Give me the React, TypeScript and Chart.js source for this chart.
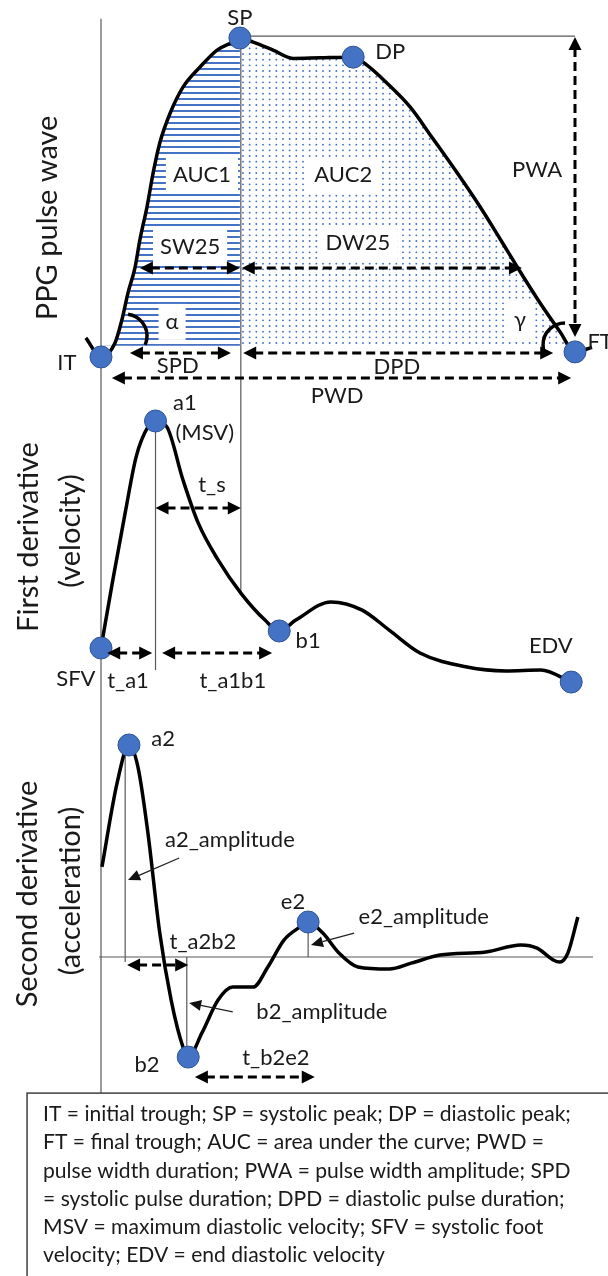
import React, { useEffect, useRef } from 'react';
import { Chart, registerables } from 'chart.js';
Chart.register(...registerables);

// ---------- DATA (time: IT = 0, FT = 100; amplitudes normalised per panel) ----------
const ppgTime = [-3.2, 0, 2.95, 4.4, 5.7, 7.2, 8.2, 9.7, 11.0, 12.4, 14.6, 17.3, 20.9, 24.5, 27.8, 29.3, 32.1, 36.3, 40.5, 46.2, 53.2, 56.1, 60.3, 65.2, 70.0, 75.1, 80.0, 84.2, 88.4, 92.6, 96.8, 100, 103.6];
const ppgValue = [0.06, 0, 0.044, 0.116, 0.201, 0.282, 0.367, 0.47, 0.577, 0.671, 0.765, 0.846, 0.909, 0.962, 0.987, 1.0, 0.987, 0.962, 0.936, 0.938, 0.94, 0.915, 0.859, 0.784, 0.685, 0.578, 0.47, 0.37, 0.268, 0.17, 0.08, 0.016, 0.03];

const velTime = [0, 2.5, 5.1, 7.4, 9.9, 11.5, 13.9, 17.3, 20.5, 24.7, 29.5, 34.6, 37.6, 41.1, 48.5, 55.1, 60.8, 67.3, 77.2, 85.4, 92.8, 99.2];
const velValue = [0, 0.3, 0.595, 0.841, 0.974, 1.0, 0.974, 0.74, 0.551, 0.388, 0.242, 0.123, 0.075, 0.123, 0.203, 0.167, 0.079, -0.022, -0.084, -0.101, -0.097, -0.15];

const accTime = [0.2, 3.4, 5.9, 7.8, 9.9, 12.4, 14.8, 17.3, 18.4, 21.3, 24.7, 27.8, 32.1, 35.2, 38.6, 42.0, 43.7, 46.8, 50.2, 54.2, 60.8, 65.6, 71.5, 81.2, 88.6, 92.0, 95.4, 96.8, 98.5, 100.6];
const accValue = [0.425, 0.821, 1.0, 0.896, 0.585, 0.113, -0.203, -0.425, -0.472, -0.358, -0.203, -0.142, -0.142, -0.047, 0.08, 0.142, 0.165, 0.113, 0.019, -0.047, -0.057, -0.028, 0.009, 0.024, 0.057, 0.042, -0.014, -0.024, 0.019, 0.189];

const ppgMarkerTime = [0, 29.3, 53.2, 100];
const ppgMarkerValue = [0, 1.0, 0.94, 0.016];
const velMarkerTime = [0, 11.5, 37.6, 99.2];
const velMarkerValue = [0, 1.0, 0.075, -0.15];
const accMarkerTime = [5.9, 18.4, 43.7];
const accMarkerValue = [1.0, -0.472, 0.165];

const systolicPeakTime = 29.3;
const aucBaseline = 0.035;

const noteLines = [
  'IT = initial trough; SP = systolic peak; DP = diastolic peak;',
  'FT = final trough; AUC = area under the curve; PWD =',
  'pulse width duration; PWA = pulse width amplitude; SPD',
  '= systolic pulse duration; DPD = diastolic pulse duration;',
  'MSV = maximum diastolic velocity; SFV = systolic foot',
  'velocity; EDV = end diastolic velocity',
];

// ---------- LAYOUT / ANNOTATIONS (in data units of each panel) ----------
const W = 608;
const H = 1276;
const xZeroPx = 101;
const xPerUnit = 4.74;
const panelAnchors: Record<string, [number, number]> = { yP: [357, 38], yV: [648, 421], yA: [957, 745] };

type Ref = [string, number, number];
const thinLines: [Ref, Ref][] = [
  [['yP', 0, 1.06], ['yA', 0, -0.642]],
  [['yP', 29.5, 1.0], ['yV', 29.5, 0.242]],
  [['yP', 29.3, 1.006], ['yP', 100, 1.006]],
  [['yV', 11.5, 1.0], ['yV', 11.5, -0.097]],
  [['yA', 5.1, 1.0], ['yA', 5.1, -0.024]],
  [['yA', 18.1, 0], ['yA', 18.1, -0.472]],
  [['yA', 43.7, 0.165], ['yA', 43.7, 0]],
  [['yA', -0.4, 0], ['yA', 103.8, 0]],
];

const dashArrows: [string, number, number, number, number][] = [
  ['yP', 8.2, 0.279, 29.3, 0.279],
  ['yP', 29.7, 0.279, 88.8, 0.279],
  ['yP', 6.1, 0.0125, 27.4, 0.0125],
  ['yP', 30.0, 0.0125, 95.4, 0.0125],
  ['yP', 2.3, -0.066, 99.2, -0.066],
  ['yP', 100, 1.003, 100, 0.063],
  ['yV', 11.5, 0.617, 29.5, 0.617],
  ['yV', 1.3, -0.022, 10.8, -0.022],
  ['yV', 12.9, -0.022, 36.1, -0.022],
  ['yA', 5.5, -0.038, 18.4, -0.038],
  ['yA', 19.8, -0.566, 45.1, -0.566],
];

const pointerArrows: [string, number, number, number, number][] = [
  ['yA', 16.5, 0.467, 5.7, 0.363],
  ['yA', 27.8, -0.259, 18.6, -0.217],
  ['yA', 53.4, 0.113, 44.3, 0.057],
];

// [axis, t, v, startDeg, endDeg, anticlockwise]
const angleArcs: [string, number, number, number, number, boolean][] = [
  ['yP', 5.06, 0.066, -82, 24, false],
  ['yP', 97.9, 0.038, -90, 160, true],
];

const labels: [string, number, number, string, boolean][] = [
  ['yP', 29.3, 1.063, 'SP', false],
  ['yP', 61.0, 0.956, 'DP', false],
  ['yP', -7.2, -0.019, 'IT', false],
  ['yP', 105.3, 0.047, 'FT', false],
  ['yP', 21.3, 0.571, 'AUC1', true],
  ['yP', 51.1, 0.571, 'AUC2', true],
  ['yP', 18.8, 0.345, 'SW25', true],
  ['yP', 54.2, 0.357, 'DW25', true],
  ['yP', 15.0, 0.11, 'α', true],
  ['yP', 88.4, 0.116, 'γ', true],
  ['yP', 92.0, 0.586, 'PWA', false],
  ['yP', 16.2, -0.028, 'SPD', false],
  ['yP', 62.4, -0.031, 'DPD', false],
  ['yP', 49.8, -0.122, 'PWD', false],
  ['yV', 17.7, 1.079, 'a1', false],
  ['yV', 21.9, 0.947, '(MSV)', false],
  ['yV', 23.4, 0.718, 't_s', false],
  ['yV', 43.7, 0.031, 'b1', false],
  ['yV', 94.9, 0.009, 'EDV', false],
  ['yV', -5.3, -0.137, 'SFV', false],
  ['yV', 5.7, -0.145, 't_a1', false],
  ['yV', 27.8, -0.145, 't_a1b1', false],
  ['yA', 13.1, 1.028, 'a2', false],
  ['yA', 27.2, 0.552, 'a2_amplitude', false],
  ['yA', 40.5, 0.259, 'e2', false],
  ['yA', 68.1, 0.189, 'e2_amplitude', false],
  ['yA', 21.5, 0.071, 't_a2b2', false],
  ['yA', 46.6, -0.259, 'b2_amplitude', false],
  ['yA', 9.7, -0.509, 'b2', false],
  ['yA', 36.9, -0.476, 't_b2e2', false],
];

const titles: [string, number, number, string][] = [
  ['yP', -11.2, 0.436, 'PPG pulse wave'],
  ['yV', -15.2, 0.489, 'First derivative'],
  ['yV', -6.3, 0.515, '(velocity)'],
  ['yA', -15.4, 0.297, 'Second derivative'],
  ['yA', -6.3, 0.311, '(acceleration)'],
];

const noteBox = { t: -15.6, axis: 'yA', v: -0.642 };

const FONT = 'Lato, "Open Sans", sans-serif';
const INK = '#1a1a1a';

function axisRange(zeroPx: number, onePx: number) {
  const per = zeroPx - onePx;
  const span = H / per;
  const max = zeroPx / per;
  return { min: max - span, max };
}

function pts(ts: number[], vs: number[]) {
  return ts.map((t, i) => ({ x: t, y: vs[i] }));
}

function arrowHead(ctx: CanvasRenderingContext2D, x: number, y: number, ang: number, len: number, half: number) {
  const c = Math.cos(ang), s = Math.sin(ang);
  ctx.beginPath();
  ctx.moveTo(x, y);
  ctx.lineTo(x - len * c + half * s, y - len * s - half * c);
  ctx.lineTo(x - len * c - half * s, y - len * s + half * c);
  ctx.closePath();
  ctx.fill();
}

const annotPlugin = {
  id: 'annot',
  beforeDatasetsDraw(chart: any) {
    const ctx: CanvasRenderingContext2D = chart.ctx;
    const P = (r: Ref) => [chart.scales.x.getPixelForValue(r[1]), chart.scales[r[0]].getPixelForValue(r[2])];
    ctx.save();
    ctx.strokeStyle = '#595959';
    ctx.lineWidth = 1.2;
    for (const [a, b] of thinLines) {
      const p = P(a), q = P(b);
      ctx.beginPath();
      ctx.moveTo(p[0], p[1]);
      ctx.lineTo(q[0], q[1]);
      ctx.stroke();
    }
    ctx.restore();
  },
  afterDatasetsDraw(chart: any) {
    const ctx: CanvasRenderingContext2D = chart.ctx;
    const xs = chart.scales.x;
    const X = (t: number) => xs.getPixelForValue(t);
    const Y = (axis: string, v: number) => chart.scales[axis].getPixelForValue(v);
    ctx.save();

    // labels
    ctx.font = `22px ${FONT}`;
    ctx.textAlign = 'center';
    ctx.textBaseline = 'middle';
    for (const [axis, t, v, text, bg] of labels) {
      const x = X(t), y = Y(axis, v);
      if (bg) {
        const w = ctx.measureText(text).width;
        ctx.fillStyle = '#ffffff';
        ctx.fillRect(x - w / 2 - 7, y - 18, w + 14, 36);
      }
      ctx.fillStyle = INK;
      ctx.fillText(text, x, y);
    }

    // dashed double arrows
    ctx.strokeStyle = '#000';
    ctx.fillStyle = '#000';
    for (const [axis, t1, v1, t2, v2] of dashArrows) {
      const x1 = X(t1), y1 = Y(axis, v1), x2 = X(t2), y2 = Y(axis, v2);
      const ang = Math.atan2(y2 - y1, x2 - x1);
      const L = 13, c = Math.cos(ang), s = Math.sin(ang);
      ctx.setLineDash([9, 5]);
      ctx.lineWidth = 3;
      ctx.beginPath();
      ctx.moveTo(x1 + (L - 2) * c, y1 + (L - 2) * s);
      ctx.lineTo(x2 - (L - 2) * c, y2 - (L - 2) * s);
      ctx.stroke();
      ctx.setLineDash([]);
      arrowHead(ctx, x2, y2, ang, L, 6.5);
      arrowHead(ctx, x1, y1, ang + Math.PI, L, 6.5);
    }

    // thin pointer arrows
    ctx.strokeStyle = '#222';
    ctx.fillStyle = '#111';
    for (const [axis, t1, v1, t2, v2] of pointerArrows) {
      const x1 = X(t1), y1 = Y(axis, v1), x2 = X(t2), y2 = Y(axis, v2);
      const ang = Math.atan2(y2 - y1, x2 - x1);
      const L = 12;
      ctx.lineWidth = 1.3;
      ctx.beginPath();
      ctx.moveTo(x1, y1);
      ctx.lineTo(x2 - L * Math.cos(ang), y2 - L * Math.sin(ang));
      ctx.stroke();
      arrowHead(ctx, x2, y2, ang, L, 5.5);
    }

    // angle arcs
    ctx.strokeStyle = '#000';
    ctx.lineWidth = 3.5;
    for (const [axis, t, v, a0, a1, anti] of angleArcs) {
      ctx.beginPath();
      ctx.arc(X(t), Y(axis, v), 22, (a0 * Math.PI) / 180, (a1 * Math.PI) / 180, anti);
      ctx.stroke();
    }

    // rotated panel titles
    ctx.fillStyle = INK;
    ctx.font = `29px ${FONT}`;
    ctx.textAlign = 'center';
    ctx.textBaseline = 'middle';
    for (const [axis, t, v, text] of titles) {
      ctx.save();
      ctx.translate(X(t), Y(axis, v));
      ctx.rotate(-Math.PI / 2);
      ctx.fillText(text, 0, 0);
      ctx.restore();
    }

    // note box
    const bx = X(noteBox.t), by = Y(noteBox.axis, noteBox.v);
    ctx.fillStyle = '#ffffff';
    ctx.fillRect(bx, by, W, H);
    ctx.strokeStyle = '#404040';
    ctx.lineWidth = 1.5;
    ctx.strokeRect(bx, by, W, H);
    ctx.font = `20px ${FONT}`;
    const w0 = ctx.measureText(noteLines[0]).width;
    const fs = (20 * 528) / w0;
    ctx.font = `${fs.toFixed(2)}px ${FONT}`;
    ctx.fillStyle = INK;
    ctx.textAlign = 'left';
    ctx.textBaseline = 'middle';
    noteLines.forEach((line, i) => {
      ctx.fillText(line, bx + 16, by + 21 + i * 28.3);
    });
    ctx.restore();
  },
};

export default function App() {
  const canvasRef = useRef<HTMLCanvasElement | null>(null);

  useEffect(() => {
    document.documentElement.style.overflow = 'hidden';
    const canvas = canvasRef.current;
    if (!canvas) return;
    const ctx0 = canvas.getContext('2d')!;

    const hTile = document.createElement('canvas');
    hTile.width = 8;
    hTile.height = 6;
    const hc = hTile.getContext('2d')!;
    hc.fillStyle = '#4472C4';
    hc.fillRect(0, 2, 8, 2);
    const hatch: any = ctx0.createPattern(hTile, 'repeat');
    hatch.toJSON = () => 'hatch';

    // dotted tile: 3 x 3 dots at ~6.7 px horizontal and ~5.7 px vertical pitch
    const dTile = document.createElement('canvas');
    dTile.width = 20;
    dTile.height = 17;
    const dc = dTile.getContext('2d')!;
    dc.fillStyle = '#4472C4';
    for (let i = 0; i < 3; i++) {
      for (let j = 0; j < 3; j++) {
        dc.beginPath();
        dc.arc(3 + (i * 20) / 3, 3 + (j * 17) / 3, 0.95, 0, Math.PI * 2);
        dc.fill();
      }
    }
    const dots: any = ctx0.createPattern(dTile, 'repeat');
    dots.toJSON = () => 'dots';

    const segFill = (c: any) => {
      const t0 = c.p0.parsed.x, t1 = c.p1.parsed.x;
      if (t0 < 0 || t1 > 100) return 'rgba(0,0,0,0)';
      return t1 <= systolicPeakTime ? hatch : dots;
    };
    const segKey = (c: any) => {
      const t0 = c.p0.parsed.x, t1 = c.p1.parsed.x;
      if (t0 < 0 || t1 > 100) return 2;
      return t1 <= systolicPeakTime ? 0 : 1;
    };

    const curve = (data: any[], axis: string, extra: any = {}) => ({
      data,
      yAxisID: axis,
      borderColor: '#000',
      borderWidth: 3.5,
      pointRadius: 0,
      cubicInterpolationMode: 'monotone',
      fill: false,
      order: 1,
      ...extra,
    });
    const markers = (data: any[], axis: string) => ({
      data,
      yAxisID: axis,
      showLine: false,
      pointRadius: 11,
      pointBackgroundColor: '#4472C4',
      pointBorderColor: '#2F5597',
      pointBorderWidth: 1,
      order: 0,
    });

    const rP = axisRange(...panelAnchors.yP);
    const rV = axisRange(...panelAnchors.yV);
    const rA = axisRange(...panelAnchors.yA);

    const chart = new Chart(canvas, {
      type: 'line',
      data: {
        datasets: [
          markers(pts(ppgMarkerTime, ppgMarkerValue), 'yP'),
          markers(pts(velMarkerTime, velMarkerValue), 'yV'),
          markers(pts(accMarkerTime, accMarkerValue), 'yA'),
          curve(pts(ppgTime, ppgValue), 'yP', {
            fill: { value: aucBaseline },
            backgroundColor: 'rgba(0,0,0,0)',
            segment: { backgroundColor: segFill, borderDashOffset: segKey },
          }),
          curve(pts(velTime, velValue), 'yV'),
          curve(pts(accTime, accValue), 'yA'),
        ] as any,
      },
      options: {
        responsive: false,
        animation: false,
        events: [],
        layout: { padding: 0, autoPadding: false },
        plugins: {
          legend: { display: false },
          tooltip: { enabled: false },
          filler: { drawTime: 'beforeDatasetsDraw' } as any,
        },
        scales: {
          x: { type: 'linear', display: false, min: -xZeroPx / xPerUnit, max: (W - xZeroPx) / xPerUnit },
          yP: { type: 'linear', display: false, min: rP.min, max: rP.max },
          yV: { type: 'linear', display: false, min: rV.min, max: rV.max },
          yA: { type: 'linear', display: false, min: rA.min, max: rA.max },
        },
      } as any,
      plugins: [annotPlugin],
    });
    return () => chart.destroy();
  }, []);

  return (
    <div style={{ position: 'absolute', left: 0, top: 0, width: W, height: H, overflow: 'hidden', background: '#fff' }}>
      <canvas ref={canvasRef} width={W} height={H} style={{ display: 'block' }} />
    </div>
  );
}
